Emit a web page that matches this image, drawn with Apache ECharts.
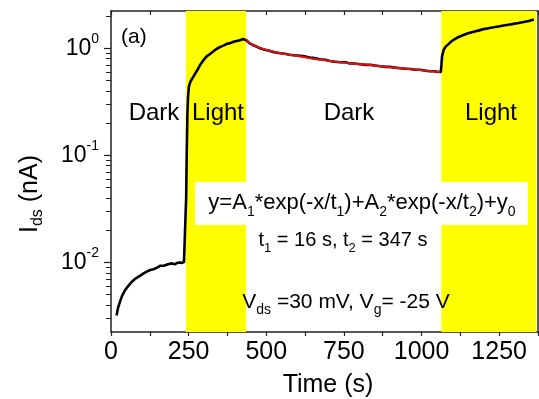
<!DOCTYPE html>
<html>
<head>
<meta charset="utf-8">
<script src="https://cdn.jsdelivr.net/npm/echarts@6/dist/echarts.min.js"></script>
<style>
  html, body { margin: 0; padding: 0; background: #fff; }
  #chart { width: 539px; height: 399px; }
</style>
</head>
<body>
<div id="chart"></div>
<script>
// Measured drain current (nA) versus time (s)
const timeS = [18, 22, 29, 36, 45, 55, 67, 80, 93, 105, 115, 126, 140, 150, 158, 170, 183, 196, 205, 213, 220, 228, 235, 240, 241,
  242, 244, 246, 248, 251, 256, 263, 271, 280, 287, 297, 308, 320, 330, 341, 352, 362, 373, 385, 395, 405, 415, 426, 432,
  437, 445, 455, 468, 480, 495, 510, 525, 545, 560, 575, 590, 609, 625, 640, 655, 673, 690, 705, 720, 738, 755, 770, 785,
  802, 820, 835, 850, 867, 885, 900, 915, 931, 950, 965, 980, 996, 1010, 1025, 1040, 1055, 1062,
  1064, 1066, 1071, 1077, 1082, 1092, 1103, 1118, 1135, 1150, 1168, 1185, 1200, 1215, 1232, 1248, 1264, 1280, 1296, 1312,
  1329, 1345, 1356, 1362];
const currentNA = [0.0032, 0.0037, 0.0043, 0.0049, 0.0055, 0.0060, 0.0066, 0.0071, 0.0075, 0.0079, 0.0082, 0.0085, 0.0087, 0.0090, 0.0093, 0.0093, 0.0096, 0.0098, 0.0096, 0.0099, 0.0100, 0.0099, 0.0101, 0.0098, 0.0100,
  0.040, 0.11, 0.24, 0.35, 0.44, 0.49, 0.53, 0.58, 0.64, 0.70, 0.77, 0.84, 0.89, 0.94, 0.99, 1.03, 1.06, 1.10, 1.12, 1.15, 1.17, 1.19, 1.22, 1.24,
  1.18, 1.12, 1.08, 1.04, 1.00, 0.97, 0.95, 0.92, 0.90, 0.89, 0.87, 0.86, 0.85, 0.84, 0.82, 0.81, 0.79, 0.78, 0.76, 0.75, 0.74, 0.74, 0.72, 0.72,
  0.71, 0.70, 0.70, 0.69, 0.68, 0.67, 0.67, 0.66, 0.65, 0.645, 0.64, 0.63, 0.63, 0.62, 0.61, 0.61, 0.60, 0.60,
  0.70, 0.84, 0.96, 1.03, 1.07, 1.13, 1.20, 1.27, 1.33, 1.38, 1.43, 1.47, 1.51, 1.54, 1.57, 1.60, 1.63, 1.66, 1.69, 1.72,
  1.76, 1.80, 1.84, 1.85];

// Double-exponential fit of the dark decay
const fitTime = [435, 445, 460, 480, 500, 530, 560, 600, 650, 700, 750, 800, 850, 900, 950, 1000, 1060];
const fitCurrent = [1.22, 1.13, 1.07, 1.01, 0.97, 0.92, 0.885, 0.85, 0.80, 0.765, 0.735, 0.71, 0.69, 0.665, 0.645, 0.625, 0.60];

// Illumination intervals (s)
const lightStart = [240.7, 1063.5];
const lightEnd = [435, 1370];

// Axis ticks
const xLabelValues = [0, 250, 500, 750, 1000, 1250];
const yMajorValues = [0.01, 0.1, 1];
const yMinorValues = [0.003, 0.004, 0.005, 0.006, 0.007, 0.008, 0.009,
  0.02, 0.03, 0.04, 0.05, 0.06, 0.07, 0.08, 0.09,
  0.2, 0.3, 0.4, 0.5, 0.6, 0.7, 0.8, 0.9, 2];

const FONT = '"Liberation Sans", Arial, Helvetica, sans-serif';
const AXIS_COLOR = '#222';

const chart = echarts.init(document.getElementById('chart'), null, { renderer: 'canvas' });

const measured = timeS.map((t, i) => [t, currentNA[i]]);
const fitted = fitTime.map((t, i) => [t, fitCurrent[i]]);
const bands = lightStart.map((s, i) => [{ xAxis: s }, { xAxis: lightEnd[i] }]);

const xBase = {
  type: 'value', min: 0, max: 1375, interval: 125,
  splitLine: { show: false },
  axisLine: { lineStyle: { color: AXIS_COLOR, width: 1.5 } }
};
const yBase = {
  type: 'log', logBase: 10, min: 0.00224, max: 2.23,
  splitLine: { show: false },
  axisLine: { show: true, lineStyle: { color: AXIS_COLOR, width: 1.5 } }
};

const option = {
  animation: false,
  textStyle: { fontFamily: FONT },
  grid: { left: 111, right: 1, top: 11, bottom: 67, containLabel: false },
  xAxis: [
    Object.assign({}, xBase, {
      position: 'bottom',
      axisTick: { inside: false, length: 4, lineStyle: { color: AXIS_COLOR, width: 1.2 } },
      axisLabel: {
        customValues: xLabelValues, margin: 8, fontSize: 25, color: '#000', fontFamily: FONT,
        formatter: v => String(v)
      }
    }),
    Object.assign({}, xBase, {
      position: 'top',
      axisTick: { inside: true, length: 4, lineStyle: { color: AXIS_COLOR, width: 1.2 } },
      axisLabel: { show: false }
    })
  ],
  yAxis: [
    Object.assign({}, yBase, {
      position: 'left',
      axisTick: { customValues: yMajorValues, length: 7, lineStyle: { color: AXIS_COLOR, width: 1.2 } },
      axisLabel: {
        customValues: yMajorValues, margin: 12, color: '#000',
        formatter: v => '{b|10}{s|' + Math.round(Math.log10(v)) + '}',
        rich: {
          b: { fontSize: 23, fontFamily: FONT, color: '#000', lineHeight: 30 },
          s: { fontSize: 14, fontFamily: FONT, color: '#000', lineHeight: 30, padding: [0, 0, 18, 0] }
        }
      }
    }),
    Object.assign({}, yBase, {
      position: 'left',
      axisLine: { show: false },
      axisTick: { customValues: yMinorValues, length: 5, lineStyle: { color: AXIS_COLOR, width: 1 } },
      axisLabel: { show: false }
    }),
    Object.assign({}, yBase, {
      position: 'right',
      axisTick: { show: false },
      axisLabel: { show: false }
    })
  ],
  series: [
    {
      name: 'light', type: 'line', data: [], z: 1, silent: true,
      markArea: {
        silent: true,
        itemStyle: { color: '#ffff00', opacity: 1 },
        data: bands
      }
    },
    {
      name: 'Ids', type: 'line', data: measured, z: 3,
      showSymbol: false, symbol: 'none',
      lineStyle: { color: '#000', width: 2.6 }
    },
    {
      name: 'fit', type: 'line', data: fitted, z: 4, smooth: true,
      showSymbol: false, symbol: 'none',
      lineStyle: { color: '#e01010', width: 2 }
    }
  ],
  graphic: [
    { type: 'rect', z: 10, shape: { x: 195, y: 182, width: 333, height: 43 }, style: { fill: '#fff' } },
    { type: 'text', z: 11, x: 121, y: 37, style: { text: '(a)', font: '21px ' + FONT, fill: '#000', align: 'left', verticalAlign: 'middle' } },
    { type: 'text', z: 11, x: 154, y: 113, style: { text: 'Dark', font: '24px ' + FONT, fill: '#000', align: 'center', verticalAlign: 'middle' } },
    { type: 'text', z: 11, x: 218, y: 113, style: { text: 'Light', font: '24px ' + FONT, fill: '#000', align: 'center', verticalAlign: 'middle' } },
    { type: 'text', z: 11, x: 349, y: 113, style: { text: 'Dark', font: '24px ' + FONT, fill: '#000', align: 'center', verticalAlign: 'middle' } },
    { type: 'text', z: 11, x: 491, y: 113, style: { text: 'Light', font: '24px ' + FONT, fill: '#000', align: 'center', verticalAlign: 'middle' } },
    {
      type: 'text', z: 11, x: 362, y: 203,
      style: {
        text: '{m|y=A}{s|1}{m|*exp(-x/t}{s|1}{m|)+A}{s|2}{m|*exp(-x/t}{s|2}{m|)+y}{s|0}',
        align: 'center', verticalAlign: 'middle',
        rich: {
          m: { fontSize: 22, fontFamily: FONT, color: '#000', lineHeight: 30 },
          s: { fontSize: 14, fontFamily: FONT, color: '#000', lineHeight: 30, padding: [18, 0, 0, 0] }
        }
      }
    },
    {
      type: 'text', z: 11, x: 343, y: 240,
      style: {
        text: '{m|t}{s|1}{m| = 16 s, t}{s|2}{m| = 347 s}',
        align: 'center', verticalAlign: 'middle',
        rich: {
          m: { fontSize: 20, fontFamily: FONT, color: '#000', lineHeight: 28 },
          s: { fontSize: 13, fontFamily: FONT, color: '#000', lineHeight: 28, padding: [16, 0, 0, 0] }
        }
      }
    },
    {
      type: 'text', z: 11, x: 346, y: 302,
      style: {
        text: '{m|V}{s|ds}{m| =30 mV, V}{s|g}{m|= -25 V}',
        align: 'center', verticalAlign: 'middle',
        rich: {
          m: { fontSize: 21, fontFamily: FONT, color: '#000', lineHeight: 30 },
          s: { fontSize: 14, fontFamily: FONT, color: '#000', lineHeight: 30, padding: [16, 0, 0, 0] }
        }
      }
    },
    { type: 'text', z: 11, x: 328, y: 385, style: { text: 'Time (s)', font: '25px ' + FONT, fill: '#000', align: 'center', verticalAlign: 'middle' } },
    {
      type: 'text', z: 11, x: 30, y: 194, rotation: Math.PI / 2,
      style: {
        text: '{m|I}{s|ds}{m| (nA)}',
        align: 'center', verticalAlign: 'middle',
        rich: {
          m: { fontSize: 25, fontFamily: FONT, color: '#000', lineHeight: 32 },
          s: { fontSize: 16, fontFamily: FONT, color: '#000', lineHeight: 32, padding: [16, 0, 0, 0] }
        }
      }
    }
  ]
};

chart.setOption(option);
</script>
</body>
</html>
